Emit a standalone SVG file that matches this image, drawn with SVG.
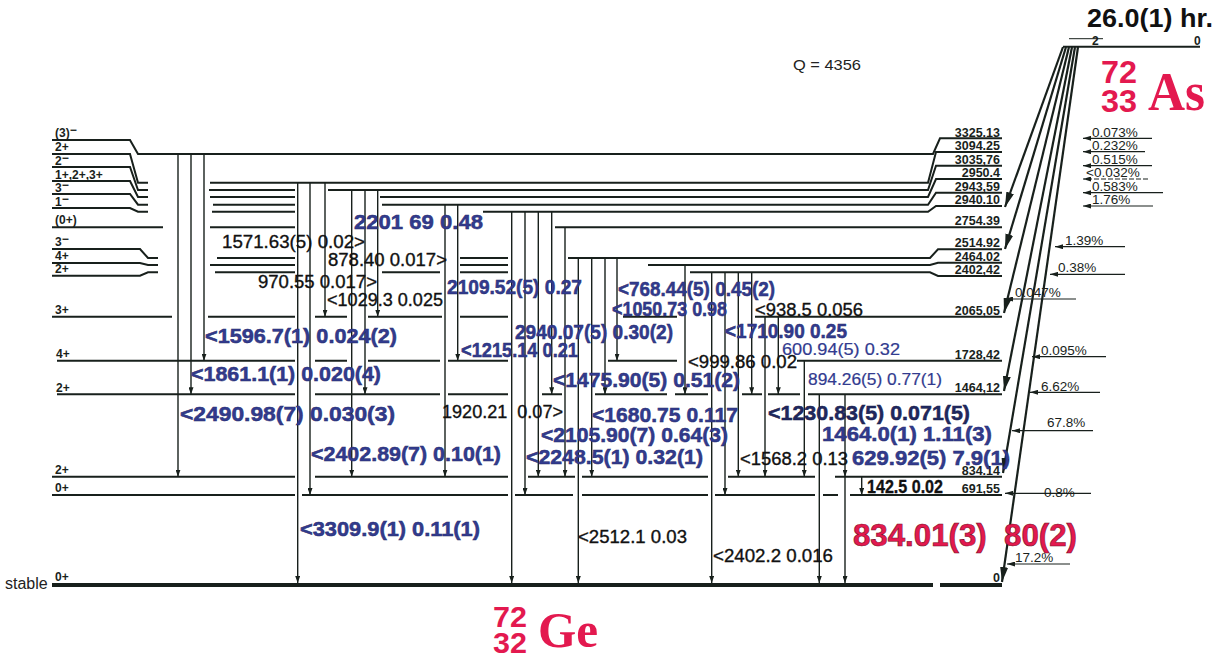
<svg xmlns="http://www.w3.org/2000/svg" width="1225" height="660" viewBox="0 0 1225 660">
<style>
text{font-family:"Liberation Sans",Arial,sans-serif}
.lv{stroke:#18201c;stroke-width:2;fill:none}
.gnd{stroke:#18201c;stroke-width:4;fill:none}
.g{stroke:#18201c;stroke-width:1.4;fill:none;marker-end:url(#ga)}
.b{stroke:#18201c;stroke-width:2.2;fill:none;marker-end:url(#ba)}
.ia{stroke:#18201c;stroke-width:1.2;fill:none;marker-end:url(#ia)}
.sp{font-size:12px;font-weight:bold;fill:#1a1f1c}
.lt{font-size:12.5px;font-weight:bold;fill:#1a1f1c;text-anchor:end}
.pc{font-size:13.5px;fill:#1a1f1c}
.bl{font-size:21px;font-weight:bold;fill:#323b8f;stroke:#262c6e;stroke-width:0.5}
.blr{font-size:16px;fill:#323b8f;stroke:#323b8f;stroke-width:0.2}
.bk{font-size:18px;fill:#111;stroke:#111;stroke-width:0.35}
.red{font-weight:bold;fill:#e3194f}
.rs{font-family:"Liberation Serif","Times New Roman",serif;font-weight:bold;fill:#e3194f}
</style>
<defs>
<marker id="ga" viewBox="0 0 7 5" refX="7" refY="2.5" markerWidth="7" markerHeight="5" markerUnits="userSpaceOnUse" orient="auto"><path d="M0,0 L7,2.5 L0,5 z" fill="#18201c"/></marker>
<marker id="ba" viewBox="0 0 15 8" refX="15" refY="4" markerWidth="15" markerHeight="8" markerUnits="userSpaceOnUse" orient="auto"><path d="M0,0 L15,4 L0,8 z" fill="#18201c"/></marker>
<marker id="ia" viewBox="0 0 8 5" refX="8" refY="2.5" markerWidth="8" markerHeight="5" markerUnits="userSpaceOnUse" orient="auto"><path d="M0,0 L8,2.5 L0,5 z" fill="#18201c"/></marker>
</defs>
<rect width="1225" height="660" fill="#fff"/>

<g id="parent">
<path class="lv" d="M1063,46.7 H1200"/>
<path d="M1069,38.7 H1103" stroke="#18201c" stroke-width="1"/>
<text x="1092" y="45" class="sp">2</text>
<text x="1194" y="45" class="sp">0</text>
<text x="1087" y="27" font-size="26" font-weight="bold" fill="#111" textLength="126" lengthAdjust="spacingAndGlyphs">26.0(1) hr.</text>
<text x="1101" y="83" class="red" font-size="31" textLength="36" lengthAdjust="spacingAndGlyphs">72</text>
<text x="1101" y="112" class="red" font-size="31" textLength="36" lengthAdjust="spacingAndGlyphs">33</text>
<text x="1148" y="110" class="rs" font-size="54" textLength="57" lengthAdjust="spacingAndGlyphs">As</text>
</g>

<text x="793" y="70" font-size="15" fill="#222" textLength="68" lengthAdjust="spacingAndGlyphs">Q = 4356</text>

<g id="lev3325"><path class="lv" d="M52,140 H130 L138,154 H933 L940,138.3 H1002"/><text x="55" y="137" class="sp">(3)<tspan dy="-3">−</tspan></text><text x="1000" y="136.5" class="lt">3325.13</text></g>
<g id="lev3094"><path class="lv" d="M52,154 H130 L138,182.7 H148 M210,182.7 H928 L936,152 H1002"/><text x="55" y="151" class="sp">2+</text><text x="1000" y="150" class="lt">3094.25</text></g>
<g id="lev3035"><path class="lv" d="M52,167 H130 L138,190 H148 M209,190 H295 M328,190 H928 L936,165.7 H1002"/><text x="55" y="164.5" class="sp">2<tspan dy="-3">−</tspan></text><text x="1000" y="164" class="lt">3035,76</text></g>
<g id="lev2950"><path class="lv" d="M52,181 H130 L138,197 H148 M210,197 H295 M380,197 H928 L936,179 H1002"/><text x="55" y="178.5" class="sp">1+,2+,3+</text><text x="1000" y="177" class="lt">2950.4</text></g>
<g id="lev2943"><path class="lv" d="M52,194 H130 L138,204.7 H148 M213,204.7 H295 M382,204.7 H928 L936,192.7 H1002"/><text x="55" y="191.5" class="sp">3<tspan dy="-3">−</tspan></text><text x="1000" y="191" class="lt">2943,59</text></g>
<g id="lev2940"><path class="lv" d="M52,208 H130 L138,211.7 H148 M212,211.7 H295 M483,211.7 H928 L936,206 H1002"/><text x="55" y="205.5" class="sp">1<tspan dy="-3">−</tspan></text><text x="1000" y="204" class="lt">2940.10</text></g>
<g id="lev2754"><path class="lv" d="M52,227.3 H163 M210,227.3 H295 M555,227.3 H1002"/><text x="55" y="224" class="sp">(0+)</text><text x="1000" y="225" class="lt">2754.39</text></g>
<g id="lev2514"><path class="lv" d="M52,249 H140 L148,258 H158 M217,258 H295 M460,258 H508 M568,258 H930 L938,249.3 H1002"/><text x="55" y="246" class="sp">3<tspan dy="-3">−</tspan></text><text x="1000" y="247" class="lt">2514.92</text></g>
<g id="lev2464"><path class="lv" d="M52,263 H140 L148,265 H158 M210,265 H295 M460,265 H508 M648,265 H930 L938,262.7 H1002"/><text x="55" y="260" class="sp">4+</text><text x="1000" y="260.5" class="lt">2464.02</text></g>
<g id="lev2402"><path class="lv" d="M52,275.7 H140 L148,272.3 H158 M215,272.3 H295 M382,272.3 H440 M460,272.3 H508 M690,272.3 H930 L938,276 H1002"/><text x="55" y="273" class="sp">2+</text><text x="1000" y="274" class="lt">2402,42</text></g>
<g id="lev2065"><path class="lv" d="M52,316.7 H172 M208,316.7 H295 M315,316.7 H347 M368,316.7 H442 M460,316.7 H508 M623,316.7 H677 M755,316.7 H1002"/><text x="55" y="314" class="sp">3+</text><text x="1000" y="314.5" class="lt">2065,05</text></g>
<g id="lev1728"><path class="lv" d="M57,360.7 H295 M315,360.7 H347 M368,360.7 H440 M448,360.7 H508 M608,360.7 H677 M797,360.7 H1002"/><text x="56" y="358" class="sp">4+</text><text x="1000" y="358.5" class="lt">1728,42</text></g>
<g id="lev1464"><path class="lv" d="M57,394.3 H295 M315,394.3 H440 M448,394.3 H508 M542,394.3 H562 M595,394.3 H667 M675,394.3 H708 M742,394.3 H762 M768,394.3 H800 M808,394.3 H1002"/><text x="56" y="391.5" class="sp">2+</text><text x="1000" y="392" class="lt">1464,12</text></g>
<g id="lev834"><path class="lv" d="M52,476.7 H295 M315,476.7 H508 M528,476.7 H575 M582,476.7 H708 M728,476.7 H815 M835,476.7 H1002"/><text x="55" y="474" class="sp">2+</text><text x="1000" y="474.5" class="lt">834.14</text></g>
<g id="lev691"><path class="lv" d="M52,495 H295 M302,495 H508 M515,495 H573 M582,495 H708 M715,495 H815 M823,495 H838 M850,495 H1002"/><text x="55" y="492" class="sp">0+</text><text x="1000" y="493" class="lt">691,55</text></g>
<g id="lev0"><path class="gnd" d="M52,585 H933 M940,585 H1002"/><text x="55" y="580.5" class="sp">0+</text><text x="1000" y="582" class="lt">0</text><text x="5" y="589" font-size="16" fill="#222">stable</text></g>

<g id="connectors">
<path class="g" d="M178,154 V476.7"/>
<path class="g" d="M191,154 V394.3"/>
<path class="g" d="M204,154 V360.7"/>
<path class="g" d="M297.7,182.7 V583"/>
<path class="g" d="M310,182.7 V495"/>
<path class="g" d="M325,182.7 V316.7"/>
<path class="g" d="M351.7,190 V476.7"/>
<path class="g" d="M365,190 V394.3"/>
<path class="g" d="M377.7,190 V316.7"/>
<path class="g" d="M445,204.7 V476.7"/>
<path class="g" d="M457.7,204.7 V360.7"/>
<path class="g" d="M511.7,211.7 V583"/>
<path class="g" d="M525,211.7 V495"/>
<path class="g" d="M538.3,211.7 V476.7"/>
<path class="g" d="M551.7,211.7 V394.3"/>
<path class="g" d="M565,227.3 V476.7"/>
<path class="g" d="M578.3,258 V583"/>
<path class="g" d="M591.7,258 V476.7"/>
<path class="g" d="M605,258 V394.3"/>
<path class="g" d="M617,258 V360.7"/>
<path class="g" d="M685,265 V394.3"/>
<path class="g" d="M711.7,272.3 V583"/>
<path class="g" d="M725,272.3 V495"/>
<path class="g" d="M738.3,272.3 V476.7"/>
<path class="g" d="M751.7,272.3 V394.3"/>
<path class="g" d="M765,316.7 V476.7"/>
<path class="g" d="M778.3,316.7 V394.3"/>
<path class="g" d="M804.3,360.7 V476.7"/>
<path class="g" d="M819.3,394.3 V583"/>
<path class="g" d="M845,394.3 V476.7"/>
<path class="g" d="M845,476.7 V583"/>
<path class="g" d="M861.7,476.7 V495"/>

<path class="b" d="M1063,47 L1005,207"/>
<path class="b" d="M1066,47 L1005,249"/>
<path class="b" d="M1069,47 L1004,313"/>
<path class="b" d="M1072,47 L1004,391"/>
<path class="b" d="M1075,47 L1003,473"/>
<path class="b" d="M1078,47 L1002,582"/>

<path class="ia" d="M1152,138.3 H1083"/>
<path class="ia" d="M1145,151.7 H1083"/>
<path class="ia" d="M1152,165.7 H1083"/>
<path class="ia" d="M1148,179 H1083" stroke-dasharray="5,2"/>
<path class="ia" d="M1163,192.7 H1083" stroke-width="1.8"/>
<path class="ia" d="M1153,206 H1083"/>
<path class="ia" d="M1125,246.7 H1055"/>
<path class="ia" d="M1125,274.3 H1050" stroke-width="1.8"/>
<path class="ia" d="M1076,299 H1005"/>
<path class="ia" d="M1106,356.7 H1032" stroke-width="1.8"/>
<path class="ia" d="M1100,392.3 H1030"/>
<path class="ia" d="M1093,430.7 H1012"/>
<path class="ia" d="M1091,493.3 H1005"/>
<path class="ia" d="M1070,564 H1007" stroke-width="1.8"/>
</g>

<g id="intensities">
<text x="1092" y="136.5" class="pc">0.073%</text>
<text x="1092" y="150" class="pc">0.232%</text>
<text x="1092" y="164" class="pc">0.515%</text>
<text x="1086" y="177" class="pc">&lt;0.032%</text>
<text x="1092" y="191" class="pc">0.583%</text>
<text x="1092" y="204" class="pc">1.76%</text>
<text x="1065" y="245" class="pc">1.39%</text>
<text x="1058" y="272" class="pc">0.38%</text>
<text x="1015" y="297" class="pc">0.047%</text>
<text x="1041" y="355" class="pc">0.095%</text>
<text x="1041" y="390.5" class="pc">6.62%</text>
<text x="1047" y="427" class="pc">67.8%</text>
<text x="1044" y="497" class="pc">0.8%</text>
<text x="1015" y="562" class="pc">17.2%</text>
</g>

<g id="gamma-labels">
<text x="354" y="229" class="bl" font-size="22" textLength="129" lengthAdjust="spacingAndGlyphs">2201 69 0.48</text>
<text x="205" y="343" class="bl" textLength="192" lengthAdjust="spacingAndGlyphs">&lt;1596.7(1) 0.024(2)</text>
<text x="191" y="381" class="bl" textLength="190" lengthAdjust="spacingAndGlyphs">&lt;1861.1(1) 0.020(4)</text>
<text x="180" y="421" class="bl" textLength="215" lengthAdjust="spacingAndGlyphs">&lt;2490.98(7) 0.030(3)</text>
<text x="311" y="461" class="bl" textLength="190" lengthAdjust="spacingAndGlyphs">&lt;2402.89(7) 0.10(1)</text>
<text x="300" y="536" class="bl" textLength="180" lengthAdjust="spacingAndGlyphs">&lt;3309.9(1) 0.11(1)</text>
<text x="447" y="294" class="bl" textLength="135" lengthAdjust="spacingAndGlyphs">2109.52(5) 0.27</text>
<text x="461" y="357" class="bl" textLength="117" lengthAdjust="spacingAndGlyphs">&lt;1215.14 0.21</text>
<text x="515" y="339" class="bl" textLength="158" lengthAdjust="spacingAndGlyphs">2940.07(5) 0.30(2)</text>
<text x="553" y="387" class="bl" textLength="187" lengthAdjust="spacingAndGlyphs">&lt;1475.90(5) 0.51(2)</text>
<text x="592" y="422" class="bl" textLength="146" lengthAdjust="spacingAndGlyphs">&lt;1680.75 0.117</text>
<text x="541" y="442" class="bl" textLength="187" lengthAdjust="spacingAndGlyphs">&lt;2105.90(7) 0.64(3)</text>
<text x="526" y="464" class="bl" textLength="177" lengthAdjust="spacingAndGlyphs">&lt;2248.5(1) 0.32(1)</text>
<text x="618" y="296" class="bl" font-size="18" textLength="157" lengthAdjust="spacingAndGlyphs">&lt;768.44(5) 0.45(2)</text>
<text x="612" y="316" class="bl" font-size="20" textLength="115" lengthAdjust="spacingAndGlyphs">&lt;1050.73 0.98</text>
<text x="725" y="338" class="bl" font-size="20" textLength="122" lengthAdjust="spacingAndGlyphs">&lt;1710.90 0.25</text>
<text x="782" y="355" class="blr" textLength="118" lengthAdjust="spacingAndGlyphs">600.94(5) 0.32</text>
<text x="808" y="385" class="blr" textLength="134" lengthAdjust="spacingAndGlyphs">894.26(5) 0.77(1)</text>
<text x="768" y="420" class="bl" style="fill:#1f2860;stroke:#161c48" textLength="202" lengthAdjust="spacingAndGlyphs">&lt;1230.83(5) 0.071(5)</text>
<text x="822" y="441" class="bl" textLength="170" lengthAdjust="spacingAndGlyphs">1464.0(1) 1.11(3)</text>
<text x="852" y="465" class="bl" textLength="158" lengthAdjust="spacingAndGlyphs">629.92(5) 7.9(1)</text>

<text x="222" y="248" class="bk" textLength="143" lengthAdjust="spacingAndGlyphs">1571.63(5) 0.02&gt;</text>
<text x="328" y="266" class="bk" textLength="119" lengthAdjust="spacingAndGlyphs">878.40 0.017&gt;</text>
<text x="258" y="288" class="bk" textLength="119" lengthAdjust="spacingAndGlyphs">970.55 0.017&gt;</text>
<text x="327" y="306" class="bk" textLength="116" lengthAdjust="spacingAndGlyphs">&lt;1029.3 0.025</text>
<text x="442" y="418" class="bk" font-size="17" xml:space="preserve" textLength="121" lengthAdjust="spacingAndGlyphs">1920.21  0.07&gt;</text>
<text x="688" y="368" class="bk" textLength="109" lengthAdjust="spacingAndGlyphs">&lt;999.86 0.02</text>
<text x="755" y="316" class="bk" textLength="108" lengthAdjust="spacingAndGlyphs">&lt;938.5 0.056</text>
<text x="740" y="465" class="bk" textLength="108" lengthAdjust="spacingAndGlyphs">&lt;1568.2 0.13</text>
<text x="867" y="493" class="bk" font-size="15" font-weight="bold" textLength="76" lengthAdjust="spacingAndGlyphs">142.5 0.02</text>
<text x="578" y="543" class="bk" textLength="109" lengthAdjust="spacingAndGlyphs">&lt;2512.1 0.03</text>
<text x="713" y="562" class="bk" textLength="120" lengthAdjust="spacingAndGlyphs">&lt;2402.2 0.016</text>

<text x="853" y="546" class="red" font-size="31" stroke="#7a0f25" stroke-width="0.6" xml:space="preserve" textLength="224" lengthAdjust="spacingAndGlyphs">834.01(3)  80(2)</text>
</g>

<g id="daughter">
<text x="493" y="627" class="red" font-size="30" textLength="34" lengthAdjust="spacingAndGlyphs">72</text>
<text x="493" y="653" class="red" font-size="30" textLength="34" lengthAdjust="spacingAndGlyphs">32</text>
<text x="538" y="647" class="rs" font-size="50" textLength="60" lengthAdjust="spacingAndGlyphs">Ge</text>
</g>
</svg>
